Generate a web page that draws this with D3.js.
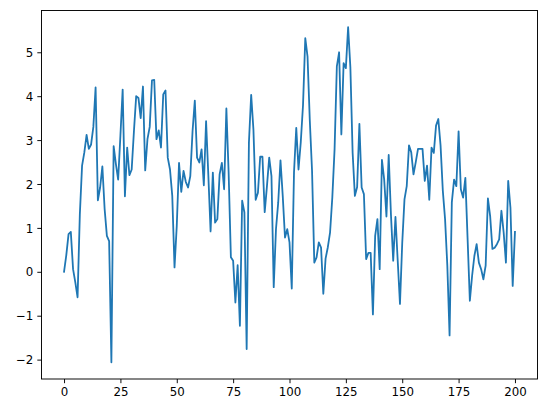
<!DOCTYPE html>
<html>
<head>
<meta charset="utf-8">
<script src="https://cdn.jsdelivr.net/npm/d3@7"></script>
<style>
	html, body { margin: 0; padding: 0; background: #fff; }
	svg { display: block; }
	.tick text { font-family: 'DejaVu Sans', sans-serif; font-size: 11.8px; fill: #000; }
</style>
</head>
<body>
<div id="chart"></div>
<script>
// x positions 0..200, one value each
const steps = d3.range(0, 201);
const values = [
	0.0, 0.38, 0.86, 0.91, 0.06, -0.24, -0.58, 1.3, 2.42, 2.72,
	3.12, 2.8, 2.9, 3.3, 4.2, 1.63, 1.92, 2.4, 1.43, 0.82,
	0.7, -2.06, 2.86, 2.45, 2.1, 3.1, 4.15, 1.72, 2.83, 2.2,
	2.33, 3.2, 4.0, 3.96, 3.5, 4.22, 2.31, 3.02, 3.3, 4.36,
	4.37, 3.02, 3.22, 2.83, 4.04, 4.13, 2.6, 2.33, 1.73, 0.1,
	1.05, 2.48, 1.82, 2.3, 2.05, 1.92, 2.18, 3.2, 3.9, 2.6,
	2.49, 2.79, 1.97, 3.43, 2.2, 0.92, 2.26, 1.12, 1.2, 2.22,
	2.48, 1.88, 3.72, 2.26, 0.33, 0.25, -0.7, 0.15, -1.23, 1.62,
	1.35, -1.76, 2.94, 4.03, 3.24, 1.64, 1.8, 2.62, 2.62, 1.36,
	1.95, 2.6, 2.18, -0.35, 0.97, 1.58, 2.54, 1.73, 0.78, 0.97,
	0.67, -0.38, 2.26, 3.28, 2.33, 2.95, 3.8, 5.32, 4.9, 3.45,
	2.3, 0.21, 0.33, 0.67, 0.55, -0.5, 0.3, 0.56, 0.9, 1.7,
	2.8, 4.68, 5.0, 3.13, 4.75, 4.64, 5.57, 4.66, 2.71, 1.73,
	1.93, 3.37, 1.92, 1.77, 0.29, 0.43, 0.43, -0.97, 0.82, 1.2,
	0.06, 2.55, 2.1, 1.26, 2.66, 1.3, 0.25, 1.25, 0.25, -0.73,
	0.65, 1.65, 1.95, 2.88, 2.72, 2.22, 2.5, 2.8, 2.8, 2.8,
	2.07, 2.42, 1.64, 2.83, 2.71, 3.33, 3.48, 2.88, 1.85, 1.2,
	0.14, -1.45, 1.58, 2.1, 1.95, 3.2, 1.88, 1.69, 2.14, 0.74,
	-0.66, -0.09, 0.36, 0.63, 0.21, 0.06, -0.17, 0.14, 1.67, 1.27,
	0.52, 0.55, 0.63, 0.74, 1.39, 0.89, 0.21, 2.07, 1.46, -0.32,
	0.91
];
const xTicks = [0, 25, 50, 75, 100, 125, 150, 175, 200];
const yTicks = [-2, -1, 0, 1, 2, 3, 4, 5];

const margin = { top: 10.5, right: 8.5, bottom: 34, left: 41.5 },
	width = 546 - margin.left - margin.right,
	height = 413 - margin.top - margin.bottom;

const svg = d3
	.select('#chart')
	.append('svg')
	.attr('width', 546)
	.attr('height', 413)
	.append('g')
	.attr('transform', 'translate(' + margin.left + ',' + margin.top + ')');

// matplotlib style 5% margins
const xExt = d3.extent(steps), yExt = d3.extent(values);
const xPad = (xExt[1] - xExt[0]) * 0.05, yPad = (yExt[1] - yExt[0]) * 0.05;
const x = d3.scaleLinear().domain([xExt[0] - xPad, xExt[1] + xPad]).range([0, width]);
const y = d3.scaleLinear().domain([yExt[0] - yPad, yExt[1] + yPad]).range([height, 0]);

const fmt = d => (d < 0 ? '\u2212' + Math.abs(d) : '' + d);

const xAxis = svg
	.append('g')
	.attr('transform', 'translate(0,' + height + ')')
	.call(d3.axisBottom(x).tickValues(xTicks).tickFormat(fmt).tickSize(4.2).tickSizeOuter(0).tickPadding(4));
xAxis.select('.domain').remove();
xAxis.selectAll('line').attr('stroke-width', 0.95);

const yAxis = svg
	.append('g')
	.call(d3.axisLeft(y).tickValues(yTicks).tickFormat(fmt).tickSize(4.2).tickSizeOuter(0).tickPadding(4));
yAxis.select('.domain').remove();
yAxis.selectAll('line').attr('stroke-width', 0.95);
yAxis.selectAll('text').attr('dy', '0.35em');

const line = d3
	.line()
	.x((d, i) => x(steps[i]))
	.y(d => y(d));

svg
	.append('path')
	.datum(values)
	.attr('fill', 'none')
	.attr('stroke', '#1f77b4')
	.attr('stroke-width', 1.8)
	.attr('stroke-linejoin', 'round')
	.attr('stroke-linecap', 'square')
	.attr('d', line);

svg
	.append('rect')
	.attr('width', width)
	.attr('height', height)
	.attr('fill', 'none')
	.attr('stroke', '#000')
	.attr('stroke-width', 0.95);
</script>
</body>
</html>
